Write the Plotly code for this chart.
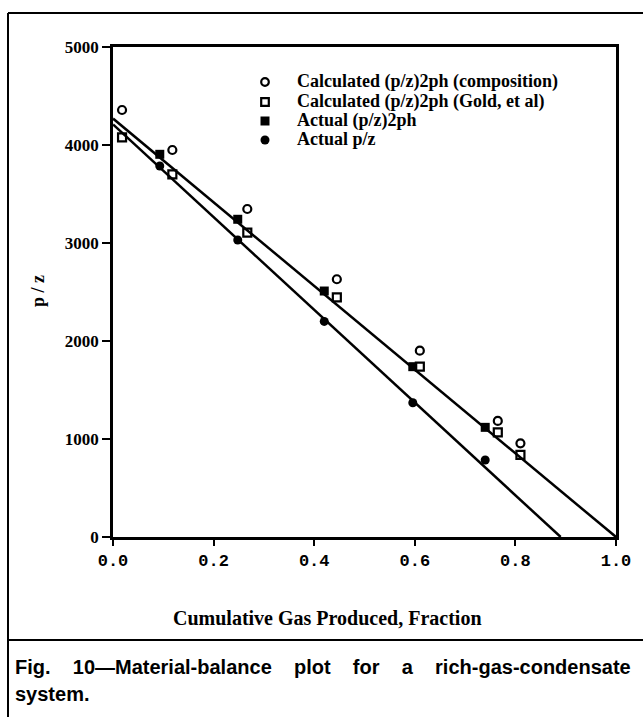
import plotly.graph_objects as go

# Material-balance data: cumulative gas produced (fraction) vs p/z
frac_actual = [0.093, 0.248, 0.420, 0.596, 0.740]
pz_2ph_actual = [3905, 3242, 2510, 1738, 1119]
pz_actual = [3786, 3031, 2200, 1370, 786]

frac_calc = [0.018, 0.118, 0.267, 0.445, 0.610, 0.765, 0.810]
pz_calc_comp = [4357, 3949, 3347, 2630, 1901, 1184, 956]
pz_calc_gold = [4078, 3701, 3105, 2446, 1738, 1068, 837]

# Straight-line fits through the actual data
fit_2ph_x = [0.0, 1.0]
fit_2ph_y = [4270, 0]
fit_pz_x = [0.0, 0.89]
fit_pz_y = [4210, 0]

x_ticks = [0.0, 0.2, 0.4, 0.6, 0.8, 1.0]
x_tick_text = ["0.0", "0.2", "0.4", "0.6", "0.8", "1.0"]
y_ticks = [0, 1000, 2000, 3000, 4000, 5000]

series_names = [
    "Calculated (p/z)2ph (composition)",
    "Calculated (p/z)2ph (Gold, et al)",
    "Actual (p/z)2ph",
    "Actual p/z",
]

W, H = 643, 717
L, R, T, B = 113, 27, 47, 180
pw, ph = W - L - R, H - T - B


def px(xp):
    return (xp - L) / pw


def py(yp):
    return (H - B - yp) / ph


serif = "Liberation Serif"
sans = "Liberation Sans"

fig = go.Figure()

fig.add_trace(go.Scatter(x=fit_2ph_x, y=fit_2ph_y, mode="lines",
                         line=dict(color="black", width=2.5), showlegend=False,
                         cliponaxis=False, hoverinfo="skip"))
fig.add_trace(go.Scatter(x=fit_pz_x, y=fit_pz_y, mode="lines",
                         line=dict(color="black", width=2.5), showlegend=False,
                         cliponaxis=False, hoverinfo="skip"))

marker_styles = [
    dict(symbol="circle-open", size=8, color="black", line=dict(width=2.2)),
    dict(symbol="square-open", size=8, color="black", line=dict(width=2.2)),
    dict(symbol="square", size=9, color="black"),
    dict(symbol="circle", size=9, color="black"),
]
series_x = [frac_calc, frac_calc, frac_actual, frac_actual]
series_y = [pz_calc_comp, pz_calc_gold, pz_2ph_actual, pz_actual]

for name, xs, ys, mk in zip(series_names, series_x, series_y, marker_styles):
    fig.add_trace(go.Scatter(x=xs, y=ys, mode="markers", name=name,
                             marker=mk, cliponaxis=False, showlegend=False))

fig.update_xaxes(
    range=[0, 1.0], tickvals=x_ticks, ticktext=x_tick_text,
    showline=True, linecolor="black", linewidth=2.5, mirror=True,
    ticks="outside", ticklen=6, tickwidth=2, tickcolor="black",
    showgrid=False, zeroline=False,
    tickfont=dict(family="Liberation Mono", size=17, color="black", weight="bold"),
)
fig.update_yaxes(
    range=[0, 5000], tickvals=y_ticks,
    showline=True, linecolor="black", linewidth=2.5, mirror=True,
    ticks="outside", ticklen=8, tickwidth=2, tickcolor="black",
    showgrid=False, zeroline=False,
    tickfont=dict(family=serif, size=17, color="black", weight="bold"),
)

annotations = [
    dict(text="p / z", x=px(38), y=py(291), xref="paper", yref="paper",
         textangle=-90, showarrow=False, xanchor="center", yanchor="middle",
         font=dict(family=serif, size=18, color="black", weight="bold")),
    dict(text="Cumulative Gas Produced, Fraction", x=px(327), y=py(618),
         xref="paper", yref="paper", showarrow=False,
         xanchor="center", yanchor="middle",
         font=dict(family=serif, size=20, color="black", weight="bold")),
    dict(text="Fig.    10\u2014Material-balance    plot    for    a    rich-gas-condensate",
         x=px(13), y=py(667), xref="paper", yref="paper", showarrow=False,
         xanchor="left", yanchor="middle",
         font=dict(family=sans, size=20, color="black", weight="bold")),
    dict(text="system.", x=px(13), y=py(694), xref="paper", yref="paper",
         showarrow=False, xanchor="left", yanchor="middle",
         font=dict(family=sans, size=20, color="black", weight="bold")),
]

# Key: one row per series, symbol then label
key_rows = [81, 101, 120, 139]
key_shapes = ["circle", "rect", "rect", "circle"]
key_filled = [False, False, True, True]
shapes = []
for name, yrow, kind, filled in zip(series_names, key_rows, key_shapes, key_filled):
    half = 4.5 if filled else 3.8
    shapes.append(dict(
        type=kind, xref="paper", yref="paper",
        xsizemode="pixel", ysizemode="pixel",
        xanchor=px(265), yanchor=py(yrow + 1),
        x0=-half, x1=half, y0=-half, y1=half,
        fillcolor="black" if filled else "rgba(0,0,0,0)",
        line=dict(color="black", width=0 if filled else 2.2),
    ))
    annotations.append(dict(
        text=name, x=px(295), y=py(yrow), xref="paper", yref="paper",
        showarrow=False, xanchor="left", yanchor="middle",
        font=dict(family=serif, size=18, color="black", weight="bold")))

shapes += [
    # outer panel frame
    dict(type="line", xref="paper", yref="paper", x0=px(8), x1=px(8),
         y0=py(13), y1=py(H), line=dict(color="black", width=2)),
    dict(type="line", xref="paper", yref="paper", x0=px(8), x1=px(W),
         y0=py(13), y1=py(13), line=dict(color="black", width=2)),
    # separator above the caption
    dict(type="line", xref="paper", yref="paper", x0=px(8), x1=px(W),
         y0=py(640), y1=py(640), line=dict(color="black", width=2)),
]

fig.update_layout(
    width=W, height=H,
    margin=dict(l=L, r=R, t=T, b=B),
    paper_bgcolor="white", plot_bgcolor="white",
    annotations=annotations, shapes=shapes,
    showlegend=False,
)

fig.write_html("out.html")
